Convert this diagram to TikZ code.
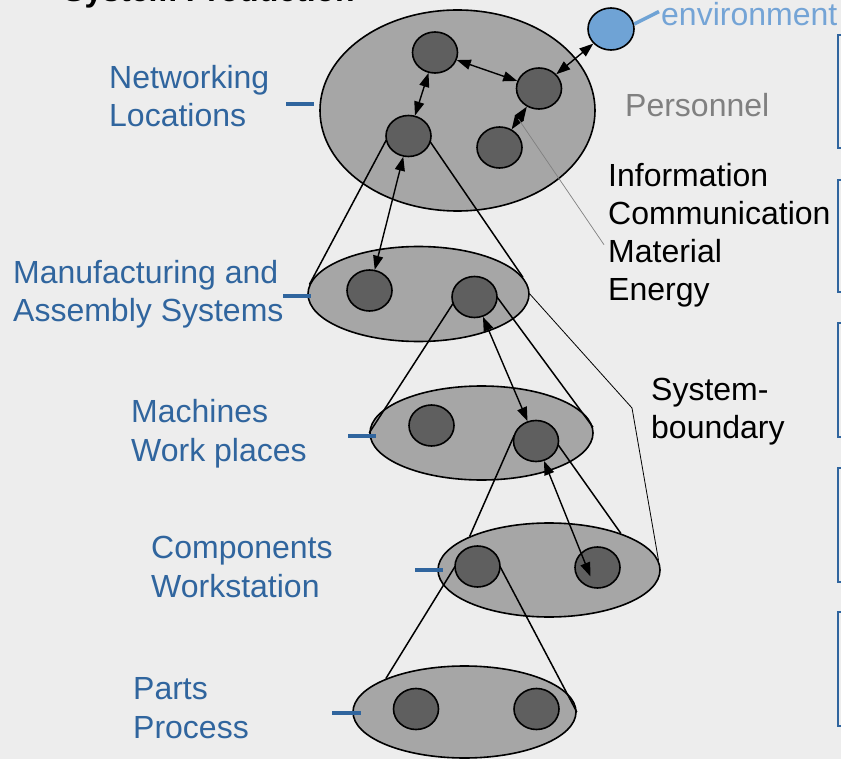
\documentclass[tikz,border=0pt]{standalone}
\usepackage{fontspec}
\setmainfont{Liberation Sans}
\usepackage{xcolor}
\usepackage{tikz}
\usetikzlibrary{positioning, calc, shapes.geometric, arrows.meta}

\definecolor{bgcol}{HTML}{EDEDED}
\definecolor{outercol}{HTML}{A6A6A6}
\definecolor{innercol}{HTML}{5F5F5F}
\definecolor{lblblue}{HTML}{30659E}
\definecolor{envblue}{HTML}{6FA3D5}
\definecolor{envtxt}{HTML}{74A4D6}

\begin{document}
\begin{tikzpicture}[x=1pt, y=-1pt, >={Triangle[length=14pt,width=10pt]},
  tier/.style={ellipse, draw, line width=1.6pt, fill=outercol, inner sep=0pt},
  elem/.style={ellipse, draw, line width=1.6pt, fill=innercol, minimum width=45pt, minimum height=41pt, inner sep=0pt},
  link/.style={<->, line width=1.4pt},
  funnel/.style={line width=1.5pt},
  tick/.style={line width=4pt, lblblue},
  lbl/.style={font=\fontsize{32}{38.5}\selectfont, text=lblblue, align=left, anchor=base west, inner sep=0pt},
  txt/.style={font=\fontsize{32}{38}\selectfont, align=left, anchor=base west, inner sep=0pt}]
  % Background
  \useasboundingbox (0,0) rectangle (841,759);
  \fill[bgcol] (0,0) rectangle (841,759);
  % Title
  \node[txt, font=\fontsize{32}{38}\selectfont\bfseries] (title) at (63,1.5) {System Production};
  % Levels
  \node[tier, minimum width=275pt, minimum height=201pt] (net) at (457.5,110.5) {};
  \node[tier, minimum width=221pt, minimum height=95pt] (manu) at (418.5,294) {};
  \node[tier, minimum width=223pt, minimum height=94pt] (mach) at (481.5,433) {};
  \node[tier, minimum width=222pt, minimum height=94pt] (comp) at (549,570) {};
  \node[tier, minimum width=223pt, minimum height=92pt] (parts) at (464.5,712) {};
  % Funnels between levels
  \draw[funnel] (408.5,136) ++(170:22.5) -- (manu.175);
  \draw[funnel] (408.5,136) ++(15:22.5) -- (manu.9);
  \draw[funnel] (474.5,297) ++(163:22.5) -- (mach.west);
  \draw[funnel] (474.5,297) ++(0:22.5) -- (mach.3);
  \draw[funnel] (536,441) ++(195:22.5) -- (comp.157);
  \draw[funnel] (536,441) ++(10:22.5) -- (comp.27);
  \draw[funnel] (477.5,566.5) ++(180:22.5) -- (parts.157);
  \draw[funnel] (477.5,566.5) ++(0:22.5) -- (parts.east);
  % Elements
  \node[elem] (n1) at (435,52.5) {};
  \node[elem] (n2) at (539,88.5) {};
  \node[elem] (n3) at (499.5,147.5) {};
  \node[elem] (n4) at (408.5,136) {};
  \node[elem] (m1) at (369.5,290.5) {};
  \node[elem] (m2) at (474.5,297) {};
  \node[elem] (w1) at (431.5,425.5) {};
  \node[elem] (w2) at (536,441) {};
  \node[elem] (c1) at (477.5,566.5) {};
  \node[elem] (c2) at (597.5,567.5) {};
  \node[elem] (p1) at (416,709) {};
  \node[elem] (p2) at (536.5,709) {};
  \node[elem, fill=envblue, minimum width=46pt, minimum height=42pt] (env) at (611,29) {};
  % Flows
  \draw[link] (n1) -- (n4);
  \draw[link] (n1) -- (n2);
  \draw[link] (n2) -- (env);
  \draw[link] (n2) -- (n3) coordinate[pos=0.55] (ptr);
  \draw[link] (n4) -- (m1);
  \draw[link] (m2) -- (w2);
  \draw[link] (w2) -- ([shift={(-7,9)}]c2.center);
  % System boundary
  \coordinate (bend) at (632,408);
  \draw[line width=0.8pt] (manu.east) -- (bend) -- (comp.5);
  % Labels
  \node[lbl] (netlbl) at (109,127) {Networking\\Locations};
  \node[lbl] (manulbl) at (13,322) {Manufacturing and\\Assembly Systems};
  \node[lbl] (machlbl) at (131,461) {Machines\\Work places};
  \node[lbl] (complbl) at (151,597) {Components\\Workstation};
  \node[lbl] (partslbl) at (133,738) {Parts\\Process};
  \draw[tick] ([shift={(-33,-6.5)}]net.west) -- ([shift={(-5,-6.5)}]net.west);
  \draw[tick] ([shift={(-24,2)}]manu.west) -- ([shift={(4,2)}]manu.west);
  \draw[tick] ([shift={(-21,3)}]mach.west) -- ([shift={(7,3)}]mach.west);
  \draw[tick] ([shift={(-22,0)}]comp.west) -- ([shift={(6,0)}]comp.west);
  \draw[tick] ([shift={(-20,1)}]parts.west) -- ([shift={(9,1)}]parts.west);
  \node[txt, text=envtxt] (envlbl) at (661,26) {environment};
  \draw[line width=3.5pt, envblue] (env.12) -- ([shift={(-2,-3)}]envlbl.west);
  \node[txt, text=gray] (pers) at (625,117) {Personnel};
  \node[txt] (info) at (608,301) {Information\\Communication\\Material\\Energy};
  \draw[gray, line width=0.7pt] (ptr) -- ([shift={(-4,9)}]info.west);
  \node[txt] (sysb) at (651,438) {System-\\boundary};
  % Boxes at the right edge
  \foreach \t/\b in {35/148, 180/292, 323/437, 468/582, 612/726}
    \draw[lblblue, line width=1.8pt] (838,\t) rectangle (880,\b);
\end{tikzpicture}
\end{document}
